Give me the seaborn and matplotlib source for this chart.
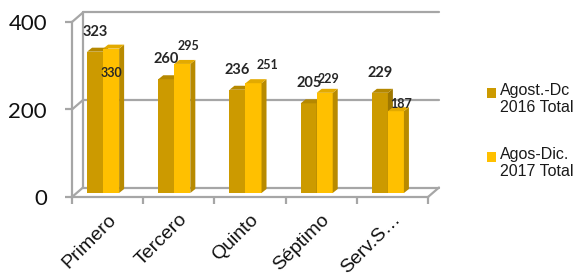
import numpy as np
import pandas as pd
import matplotlib
matplotlib.use("Agg")
import matplotlib.pyplot as plt
import seaborn as sns
from matplotlib.transforms import offset_copy, IdentityTransform
from matplotlib.patches import Polygon, Rectangle

categorias = ["Primero", "Tercero", "Quinto", "Séptimo", "Serv.S…"]
total_2016 = [323, 260, 236, 205, 229]
total_2017 = [330, 295, 251, 229, 187]
series = ["Agost.-Dc\n2016 Total", "Agos-Dic.\n2017 Total"]
y_ticks = [0, 200, 400]

colores = ["#CC9A00", "#FFC000"]
lados = ["#9E7700", "#B88A00"]
techos = ["#B58800", "#E3AA00"]
gris = "#A6A6A6"

# Excel put the 2017 labels by hand, offsets in px from the bar top
off_x_2017 = [0, 6, 14, 4, 5]
off_y_2017 = [-24, 18, 18, 14, 7]

df = pd.DataFrame({
    "cat": categorias * 2,
    "val": total_2016 + total_2017,
    "serie": [series[0]] * len(categorias) + [series[1]] * len(categorias),
})

sns.set_theme(style="white")
plt.rcParams["font.family"] = ["Liberation Sans", "DejaVu Sans"]
num_font = ["Lato", "DejaVu Sans"]

fig = plt.figure(figsize=(5.73, 2.73), dpi=100)
ax = fig.add_axes([72 / 573, 76 / 273, 356 / 573, 175 / 273])

sns.barplot(data=df, x="cat", y="val", hue="serie", palette=colores,
            width=0.45, gap=0, saturation=1, linewidth=0, legend=False, ax=ax)
ax.set_ylim(0, 400)
ax.set_xlim(-0.5, len(categorias) - 0.5)

# pseudo 3d: bars sit a bit inside the floor
bar_tr = offset_copy(ax.transData, fig=fig, x=-4.5, y=4, units="dots")
back_tr = offset_copy(ax.transData, fig=fig, x=11, y=9.5, units="dots")
dx, dy = 5, 4
for k, cont in enumerate(ax.containers):
    for bar in cont:
        bar.set_transform(bar_tr)
        bar.set_zorder(2 + k)
        x0, x1 = bar.get_x(), bar.get_x() + bar.get_width()
        h = bar.get_height()
        (px0, py0), (px1, py1) = bar_tr.transform([(x0, 0), (x1, h)])
        side = [(px1, py0), (px1 + dx, py0 + dy), (px1 + dx, py1 + dy), (px1, py1)]
        top = [(px0, py1), (px0 + dx, py1 + dy), (px1 + dx, py1 + dy), (px1, py1)]
        for verts, c in [(side, lados[k]), (top, techos[k])]:
            ax.add_patch(Polygon(verts, closed=True, facecolor=c, edgecolor="none",
                                 transform=IdentityTransform(), clip_on=False,
                                 zorder=2 + k + 0.1))

# back wall grid and floor
x_a, x_b = -0.5, len(categorias) - 0.5
for v in y_ticks:
    ax.plot([x_a, x_b], [v, v], transform=back_tr, color=gris, lw=1.6,
            clip_on=False, zorder=0.5)
    p_f = ax.transData.transform((x_a, v))
    p_b = back_tr.transform((x_a, v))
    ax.plot([p_f[0], p_b[0]], [p_f[1], p_b[1]], transform=IdentityTransform(),
            color=gris, lw=1.6, clip_on=False, zorder=0.5)
ax.plot([x_a, x_a], [0, 400], transform=back_tr, color=gris, lw=1.6,
        clip_on=False, zorder=0.5)
p_f = ax.transData.transform((x_b, 0))
p_b = back_tr.transform((x_b, 0))
ax.plot([p_f[0], p_b[0]], [p_f[1], p_b[1]], transform=IdentityTransform(),
        color=gris, lw=1.6, clip_on=False, zorder=0.5)

# value labels
for i, bar in enumerate(ax.containers[0]):
    cx = bar.get_x() + bar.get_width() / 2
    tr = offset_copy(ax.transData, fig=fig, x=-4.5, y=4 + 20, units="dots")
    ax.text(cx, bar.get_height(), str(total_2016[i]), transform=tr, ha="center",
            va="center", fontsize=10.5, fontweight="bold", family=num_font,
            zorder=6)
for i, bar in enumerate(ax.containers[1]):
    cx = bar.get_x() + bar.get_width() / 2
    tr = offset_copy(ax.transData, fig=fig, x=-4.5 + off_x_2017[i],
                     y=4 + off_y_2017[i], units="dots")
    ax.text(cx, bar.get_height(), str(total_2017[i]), transform=tr, ha="center",
            va="center", fontsize=9, fontweight="bold", family=num_font,
            zorder=6)

# axes
for s in ["top", "right"]:
    ax.spines[s].set_visible(False)
for s in ["left", "bottom"]:
    ax.spines[s].set_color(gris)
    ax.spines[s].set_linewidth(1.6)
ax.set_yticks(y_ticks)
ax.set_yticklabels([str(v) for v in y_ticks], family=num_font)
ax.tick_params(axis="y", left=True, length=5, width=1.6, color=gris, pad=13,
               labelsize=16, labelcolor="#111111")
ax.set_xticks(range(len(categorias)))
ax.set_xticklabels(categorias, rotation=45, ha="right", rotation_mode="anchor")
ax.set_xticks(np.arange(-0.5, len(categorias), 1), minor=True)
ax.tick_params(axis="x", which="major", length=0, pad=10, labelsize=14,
               labelcolor="#111111")
ax.tick_params(axis="x", which="minor", bottom=True, length=5, width=1.6, color=gris)
ax.set_xlabel("")
ax.set_ylabel("")

# legend, squares on the first line like Excel does
W, H = 573, 273
for k, (lab, y_top) in enumerate(zip(series, [85, 149])):
    fig.patches.append(Rectangle((487 / W, 1 - (y_top + 13) / H), 9 / W, 10 / H,
                                 transform=fig.transFigure, facecolor=colores[k],
                                 edgecolor="none"))
    fig.text(500 / W, 1 - (y_top - 2) / H, lab, ha="left", va="top", fontsize=11.5,
             linespacing=1.2, color="#1a1a1a")

fig.savefig("out.png", dpi=100)
